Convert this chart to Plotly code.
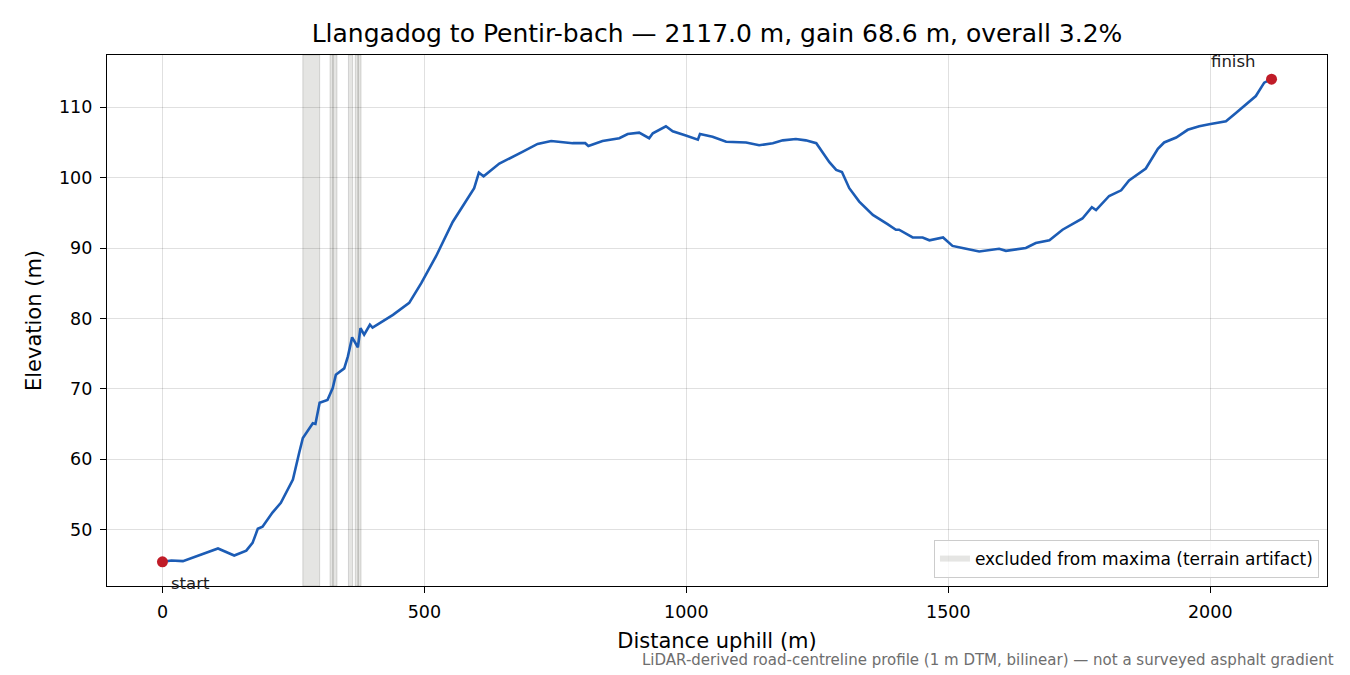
import plotly.graph_objects as go

# distance along the road (m) and elevation (m)
dist = [0, 17, 39, 77, 106, 137, 160, 172, 182, 191,
        210, 226, 249, 261, 268, 287, 292, 300, 315, 325,
        331, 347, 354, 362, 373, 378, 385, 396, 401, 414,
        440, 471, 494, 522, 554, 595, 604, 613, 643, 688,
        716, 742, 783, 807, 813, 840, 872, 888, 910, 929,
        936, 961, 974, 999, 1022, 1026, 1050, 1076, 1114, 1139,
        1165, 1184, 1209, 1228, 1248, 1273, 1286, 1297, 1311, 1330,
        1356, 1384, 1400, 1406, 1432, 1451, 1464, 1490, 1508, 1527,
        1559, 1597, 1610, 1648, 1667, 1693, 1718, 1756, 1774, 1782,
        1807, 1830, 1845, 1877, 1887, 1900, 1912, 1935, 1957, 1979,
        1998, 2030, 2049, 2074, 2087, 2103, 2117]

elev = [45.4, 45.6, 45.5, 46.5, 47.3, 46.3, 47.0, 48.1, 50.1, 50.4,
        52.4, 53.8, 57.1, 60.9, 63.0, 65.1, 65.0, 68.0, 68.4, 70.1,
        72.0, 72.9, 74.6, 77.3, 75.9, 78.6, 77.7, 79.1, 78.7, 79.3,
        80.5, 82.2, 85.0, 88.8, 93.7, 98.5, 100.7, 100.2, 102.0, 103.7,
        104.8, 105.2, 104.9, 104.9, 104.5, 105.2, 105.6, 106.2, 106.4, 105.6,
        106.3, 107.3, 106.6, 106.0, 105.4, 106.2, 105.8, 105.1, 105.0, 104.6,
        104.9, 105.3, 105.5, 105.3, 104.9, 102.2, 101.1, 100.8, 98.5, 96.6,
        94.7, 93.4, 92.6, 92.6, 91.5, 91.5, 91.1, 91.5, 90.3, 90.0,
        89.5, 89.9, 89.6, 90.0, 90.7, 91.1, 92.6, 94.2, 95.8, 95.4,
        97.4, 98.2, 99.6, 101.3, 102.5, 104.1, 105.0, 105.7, 106.8, 107.3,
        107.6, 108.0, 109.2, 110.7, 111.6, 113.5, 114.0]

# spans excluded from maxima (terrain artifacts)
excl_start = [268, 320, 325, 355, 368, 373]
excl_end = [300, 326, 333, 363, 374, 379]

title = "Llangadog to Pentir-bach — 2117.0 m, gain 68.6 m, overall 3.2%"
note = "LiDAR-derived road-centreline profile (1 m DTM, bilinear) — not a surveyed asphalt gradient"
band_label = "excluded from maxima (terrain artifact)"

font = "DejaVu Sans"
band_fill = "rgba(160,160,155,0.28)"
band_edge = "rgba(150,150,145,0.35)"

fig = go.Figure()

# shaded artifact spans
for a, b in zip(excl_start, excl_end):
    fig.add_vrect(x0=a, x1=b, fillcolor=band_fill,
                  line=dict(color=band_edge, width=1), layer="below")

# legend entry for the spans (patch only)
fig.add_trace(go.Scatter(
    x=[None], y=[None], mode="none", fill="toself",
    fillcolor=band_fill, name=band_label, showlegend=True,
))

# elevation profile
fig.add_trace(go.Scatter(
    x=dist, y=elev, mode="lines",
    line=dict(color="#1c5cb5", width=2.6),
    showlegend=False,
))

# start / finish points
fig.add_trace(go.Scatter(
    x=[dist[0], dist[-1]], y=[elev[0], elev[-1]], mode="markers",
    marker=dict(color="#c01c28", size=11),
    showlegend=False,
))

fig.add_annotation(x=dist[0], y=elev[0], text="start", showarrow=False,
                   xanchor="left", yanchor="top", xshift=7, yshift=-10,
                   font=dict(size=16.5, color="#222"))
fig.add_annotation(x=dist[-1], y=elev[-1], text="finish", showarrow=False,
                   xanchor="right", yanchor="bottom", xshift=-14, yshift=6,
                   font=dict(size=16.5, color="#222"))
fig.add_annotation(xref="paper", yref="paper", x=1.0074, y=-0.139,
                   text=note, showarrow=False, xanchor="right", yanchor="middle",
                   font=dict(size=15, color="#6e6e6e"))

axis_style = dict(
    showline=True, linecolor="black", linewidth=1.3, mirror=True,
    ticks="outside", ticklen=6, tickwidth=1.2, tickcolor="black",
    showgrid=True, gridcolor="rgba(0,0,0,0.12)", gridwidth=1,
    zeroline=False, tickfont=dict(size=17.5, color="black"),
)

# page body adds an 8 px offset, so margins are trimmed by 8 on top/left
fig.update_layout(
    width=1350, height=675,
    margin=dict(l=99, r=31, t=47, b=97),
    paper_bgcolor="white", plot_bgcolor="white",
    font=dict(family=font, color="black"),
    title=dict(text=title, xref="paper", x=0.5, xanchor="center", y=0.963, yanchor="middle",
               font=dict(size=25, color="black")),
    xaxis=dict(axis_style, range=[-105.85, 2222.85], tickvals=[0, 500, 1000, 1500, 2000],
               ticklabelstandoff=4,
               title=dict(text="Distance uphill (m)", font=dict(size=21), standoff=12)),
    yaxis=dict(axis_style, range=[41.97, 117.43], tickvals=[50, 60, 70, 80, 90, 100, 110],
               ticklabelstandoff=4,
               title=dict(text="Elevation (m)", font=dict(size=21), standoff=11)),
    legend=dict(x=0.9934, y=0.015, xanchor="right", yanchor="bottom",
                bgcolor="rgba(255,255,255,0.8)", bordercolor="#cccccc", borderwidth=1,
                font=dict(size=17, color="black")),
)

fig.write_html("out.html")
